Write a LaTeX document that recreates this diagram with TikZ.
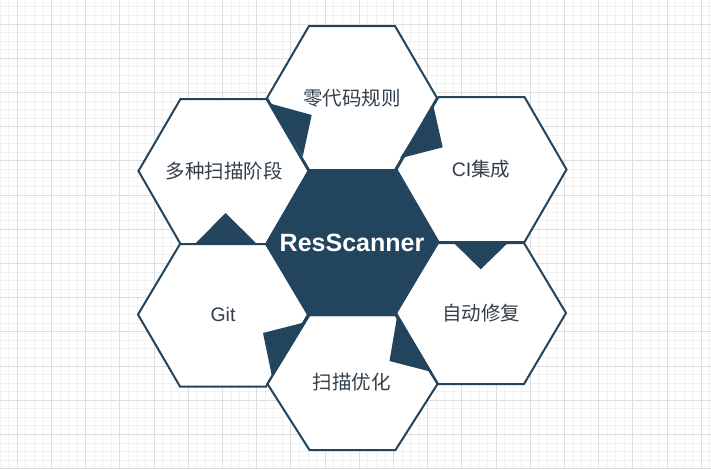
\documentclass[tikz,border=0pt]{standalone}
\usepackage{fontspec}
\setmainfont{Liberation Sans}
\newfontfamily\cjk{Noto Sans CJK SC}
\definecolor{hexc}{HTML}{23445D}
\definecolor{txtc}{HTML}{333F4A}
\definecolor{gminor}{HTML}{F1F1F1}
\definecolor{gmajor}{HTML}{DEDEDE}
\newcommand\hexpath[4]{({#1-85},#3) -- ({#1-43},#2) -- ({#1+43},#2) -- ({#1+85},#3) -- ({#1+43},#4) -- ({#1-43},#4) -- cycle}
\tikzset{
  whitehex/.style={draw=hexc, fill=white, line width=2pt},
  corehex/.style={draw=hexc, fill=hexc, line width=2pt},
  pointer/.style={fill=hexc},
  lbl/.style={text=txtc, font=\fontsize{19.5}{22}\selectfont, inner sep=0pt},
  corelbl/.style={text=white, font=\fontsize{25}{28}\selectfont\bfseries, inner sep=0pt},
  minorline/.style={draw=gminor, line width=0.9pt},
  majorline/.style={draw=gmajor, line width=0.9pt}
}
\begin{document}
\begin{tikzpicture}[x=1pt,y=-1pt]
\useasboundingbox (0,0) rectangle (711,469);
\fill[white] (0,0) rectangle (711,469);
% grid
\foreach \i in {0,...,83} \draw[minorline] ({0.2+8.55*\i},0) -- ({0.2+8.55*\i},469);
\foreach \i in {0,...,54} \draw[minorline] (0,{6.9+8.55*\i}) -- (711,{6.9+8.55*\i});
\foreach \i in {0,...,20} \draw[majorline] ({17.3+34.2*\i},0) -- ({17.3+34.2*\i},469);
\foreach \i in {0,...,13} \draw[majorline] (0,{24+34.2*\i}) -- (711,{24+34.2*\i});
% outer hexagons
\path[whitehex] \hexpath{352}{26}{98}{170};
\path[whitehex] \hexpath{223.5}{99}{171}{244};
\path[whitehex] \hexpath{481.5}{97}{169.5}{242};
\path[whitehex] \hexpath{223}{244}{314.5}{386.5};
\path[whitehex] \hexpath{481}{243}{313}{384};
\path[whitehex] \hexpath{352.5}{315}{384}{450};
% central hexagon
\path[corehex] \hexpath{352}{170.5}{242.5}{315};
% pointers
\fill[pointer] (270,103.5) -- (311.7,115) -- (302.7,156.7) -- cycle;
\fill[pointer] (433.3,105.5) -- (442.7,147.3) -- (400,158.3) -- cycle;
\fill[pointer] (453.3,242.5) -- (508.3,242.5) -- (480.7,269.3) -- cycle;
\fill[pointer] (397,317) -- (389.5,361) -- (432,372) -- cycle;
\fill[pointer] (306,322) -- (263,333) -- (272,376.5) -- cycle;
\fill[pointer] (195,244) -- (225.5,213) -- (257,244) -- cycle;
% labels
\node[corelbl] (core) at (352,242.5) {ResScanner};
\node[lbl] (rules) at (352,98) {\cjk 零代码规则};
\node[lbl] (stages) at (224,171.5) {\cjk 多种扫描阶段};
\node[lbl] (ci) at (481,169.5) {CI\cjk 集成};
\node[lbl] (git) at (223,314.5) {Git};
\node[lbl] (fix) at (481,313) {\cjk 自动修复};
\node[lbl] (opt) at (351.5,382.5) {\cjk 扫描优化};
\end{tikzpicture}
\end{document}
